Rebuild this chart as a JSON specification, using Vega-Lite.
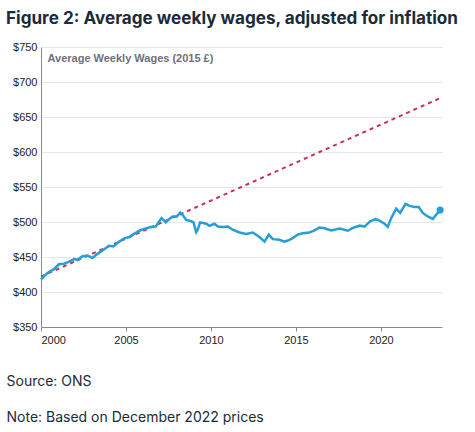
{
  "$schema": "https://vega.github.io/schema/vega-lite/v6.json",
  "autosize": "none",
  "width": 401,
  "height": 280,
  "padding": {"left": 41, "top": 47, "right": 33, "bottom": 105},
  "background": "white",
  "title": {
    "text": "Figure 2: Average weekly wages, adjusted for inflation",
    "anchor": "start",
    "frame": "group",
    "dx": -35,
    "offset": 14,
    "font": "Inter",
    "fontSize": 17.1,
    "fontWeight": "bold",
    "color": "#1b2b3a"
  },
  "datasets": {
    "wages": [
      {"year": 2000.0, "wage": 418},
      {"year": 2000.15, "wage": 422},
      {"year": 2000.38, "wage": 427},
      {"year": 2000.78, "wage": 433},
      {"year": 2001.07, "wage": 440},
      {"year": 2001.36, "wage": 440.5},
      {"year": 2001.66, "wage": 443.5},
      {"year": 2001.95, "wage": 447},
      {"year": 2002.15, "wage": 446},
      {"year": 2002.44, "wage": 451},
      {"year": 2002.74, "wage": 452},
      {"year": 2003.03, "wage": 448.5},
      {"year": 2003.32, "wage": 454.5},
      {"year": 2003.72, "wage": 461},
      {"year": 2004.0, "wage": 466},
      {"year": 2004.26, "wage": 465},
      {"year": 2004.6, "wage": 472},
      {"year": 2004.93, "wage": 477},
      {"year": 2005.19, "wage": 478.5},
      {"year": 2005.48, "wage": 483},
      {"year": 2005.78, "wage": 487.5},
      {"year": 2006.07, "wage": 490},
      {"year": 2006.46, "wage": 493},
      {"year": 2006.75, "wage": 493.5},
      {"year": 2006.89, "wage": 498.5},
      {"year": 2007.09, "wage": 505.5},
      {"year": 2007.25, "wage": 502},
      {"year": 2007.34, "wage": 499.5},
      {"year": 2007.54, "wage": 504},
      {"year": 2007.74, "wage": 508},
      {"year": 2007.99, "wage": 508},
      {"year": 2008.19, "wage": 513.5},
      {"year": 2008.34, "wage": 510},
      {"year": 2008.54, "wage": 503},
      {"year": 2008.84, "wage": 501},
      {"year": 2008.97, "wage": 499.5},
      {"year": 2009.13, "wage": 485.5},
      {"year": 2009.22, "wage": 489},
      {"year": 2009.36, "wage": 499.5},
      {"year": 2009.72, "wage": 497.5},
      {"year": 2009.91, "wage": 494.5},
      {"year": 2010.2, "wage": 497.5},
      {"year": 2010.4, "wage": 493.5},
      {"year": 2010.69, "wage": 493},
      {"year": 2010.99, "wage": 493.5},
      {"year": 2011.28, "wage": 489},
      {"year": 2011.68, "wage": 485},
      {"year": 2012.07, "wage": 483},
      {"year": 2012.46, "wage": 485},
      {"year": 2012.85, "wage": 478.5},
      {"year": 2013.15, "wage": 472},
      {"year": 2013.4, "wage": 482},
      {"year": 2013.64, "wage": 475.5},
      {"year": 2014.03, "wage": 474.5},
      {"year": 2014.32, "wage": 472},
      {"year": 2014.52, "wage": 473.5},
      {"year": 2014.81, "wage": 477},
      {"year": 2015.1, "wage": 482},
      {"year": 2015.4, "wage": 484},
      {"year": 2015.79, "wage": 485},
      {"year": 2016.09, "wage": 488},
      {"year": 2016.38, "wage": 492},
      {"year": 2016.68, "wage": 491},
      {"year": 2017.07, "wage": 488},
      {"year": 2017.56, "wage": 490.5},
      {"year": 2018.05, "wage": 487.5},
      {"year": 2018.34, "wage": 491.5},
      {"year": 2018.74, "wage": 495},
      {"year": 2019.03, "wage": 493.5},
      {"year": 2019.36, "wage": 501},
      {"year": 2019.68, "wage": 504},
      {"year": 2019.91, "wage": 502},
      {"year": 2020.21, "wage": 497.5},
      {"year": 2020.4, "wage": 493},
      {"year": 2020.6, "wage": 505.5},
      {"year": 2020.89, "wage": 519},
      {"year": 2021.13, "wage": 513},
      {"year": 2021.44, "wage": 526},
      {"year": 2021.68, "wage": 523},
      {"year": 2021.97, "wage": 521.5},
      {"year": 2022.22, "wage": 521.5},
      {"year": 2022.46, "wage": 513},
      {"year": 2022.75, "wage": 508},
      {"year": 2023.05, "wage": 504.5},
      {"year": 2023.25, "wage": 510.5},
      {"year": 2023.48, "wage": 517}
    ],
    "trend": [
      {"year": 2000.0, "wage": 422},
      {"year": 2023.48, "wage": 677}
    ],
    "latest": [
      {"year": 2023.48, "wage": 517}
    ]
  },
  "encoding": {
    "x": {
      "field": "year",
      "type": "quantitative",
      "scale": {"domain": [2000, 2023.59], "nice": false, "zero": false},
      "axis": {
        "values": [2000, 2005, 2010, 2015, 2020],
        "format": "d",
        "grid": false,
        "domainColor": "#8a8a8a",
        "tickColor": "#8a8a8a",
        "tickSize": 4,
        "labelPadding": 3,
        "labelFlush": true,
        "labelFont": "Liberation Sans",
        "labelFontSize": 11,
        "labelColor": "#222222",
        "title": ["Source: ONS", "Note: Based on December 2022 prices"],
        "titleX": -35,
        "titleY": 47,
        "titleAlign": "left",
        "titleAnchor": "start",
        "titleBaseline": "top",
        "titleLineHeight": 36,
        "titleFont": "Inter",
        "titleFontSize": 14,
        "titleFontWeight": "normal",
        "titleColor": "#1b2b3a"
      }
    },
    "y": {
      "field": "wage",
      "type": "quantitative",
      "scale": {"domain": [350, 750], "nice": false, "zero": false},
      "axis": {
        "values": [350, 400, 450, 500, 550, 600, 650, 700, 750],
        "format": "$.0f",
        "ticks": false,
        "labelPadding": 4,
        "gridColor": "#e6e6e6",
        "domainColor": "#8a8a8a",
        "labelFont": "Liberation Sans",
        "labelFontSize": 11,
        "labelColor": "#222222",
        "title": "Average Weekly Wages (2015 £)",
        "titleAngle": 0,
        "titleX": 6,
        "titleY": 11,
        "titleAlign": "left",
        "titleBaseline": "middle",
        "titleFont": "Liberation Sans",
        "titleFontSize": 11,
        "titleFontWeight": "bold",
        "titleColor": "#6f6f80"
      }
    }
  },
  "layer": [
    {
      "data": {"name": "trend"},
      "mark": {"type": "line", "color": "#c8305c", "strokeWidth": 2, "strokeDash": [4, 4]}
    },
    {
      "data": {"name": "wages"},
      "mark": {"type": "line", "color": "#279ed6", "strokeWidth": 2.5}
    },
    {
      "data": {"name": "latest"},
      "mark": {"type": "circle", "color": "#279ed6", "opacity": 1, "size": 50}
    }
  ],
  "config": {"view": {"stroke": null}}
}
